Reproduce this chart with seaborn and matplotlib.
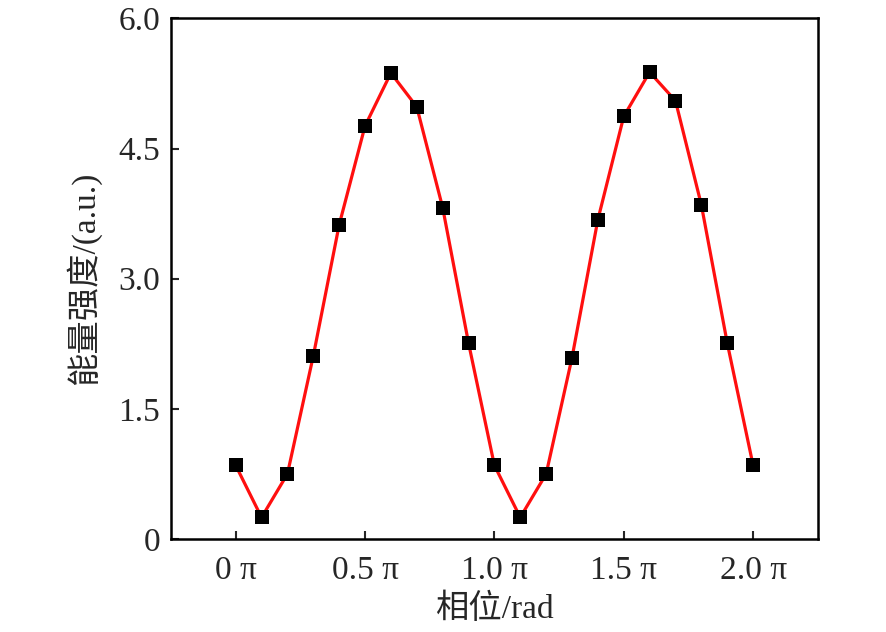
import numpy as np
import pandas as pd
import matplotlib
matplotlib.use("Agg")
import matplotlib.pyplot as plt
import seaborn as sns

# phase in units of pi, and energy intensity
phase = [0.0, 0.1, 0.2, 0.3, 0.4, 0.5, 0.6, 0.7, 0.8, 0.9, 1.0,
         1.1, 1.2, 1.3, 1.4, 1.5, 1.6, 1.7, 1.8, 1.9, 2.0]
energy = [0.85, 0.25, 0.75, 2.11, 3.62, 4.76, 5.37, 4.98, 3.82, 2.26, 0.85,
          0.25, 0.75, 2.09, 3.68, 4.87, 5.38, 5.05, 3.85, 2.26, 0.85]

x_ticks = [0.0, 0.5, 1.0, 1.5, 2.0]
x_ticklabels = ["0 π", "0.5 π", "1.0 π", "1.5 π", "2.0 π"]
y_ticks = [0, 1.5, 3.0, 4.5, 6.0]
y_ticklabels = ["0", "1.5", "3.0", "4.5", "6.0"]

df = pd.DataFrame({"phase": phase, "energy": energy})

sns.set_style("ticks")
plt.rcParams["font.family"] = ["Liberation Serif", "Noto Sans CJK SC"]
plt.rcParams["xtick.direction"] = "in"
plt.rcParams["ytick.direction"] = "in"

fig = plt.figure(figsize=(8.86, 6.32), dpi=100)
ax = fig.add_axes([0.193, 0.147, 0.730, 0.824])

sns.lineplot(data=df, x="phase", y="energy", ax=ax, color="#ff0f0f",
             linewidth=2.3, zorder=1)
sns.scatterplot(data=df, x="phase", y="energy", ax=ax, marker="s",
                s=110, color="black", edgecolor="black", linewidth=0, zorder=2)

ax.set_xlim(-0.25, 2.25)
ax.set_ylim(0, 6.0)
ax.set_xticks(x_ticks)
ax.set_xticklabels(x_ticklabels)
ax.set_yticks(y_ticks)
ax.set_yticklabels(y_ticklabels)
ax.tick_params(labelsize=24, width=1.5, length=6)
ax.tick_params(axis="x", pad=12)
ax.tick_params(axis="y", pad=8)
ax.tick_params(top=False, right=False)
for side in ax.spines.values():
    side.set_linewidth(1.8)
    side.set_color("black")

ax.set_xlabel("相位/rad", fontsize=24, labelpad=5)
ax.set_ylabel("能量强度/(a.u.)", fontsize=24, labelpad=12)

fig.savefig("out.png", dpi=100)
